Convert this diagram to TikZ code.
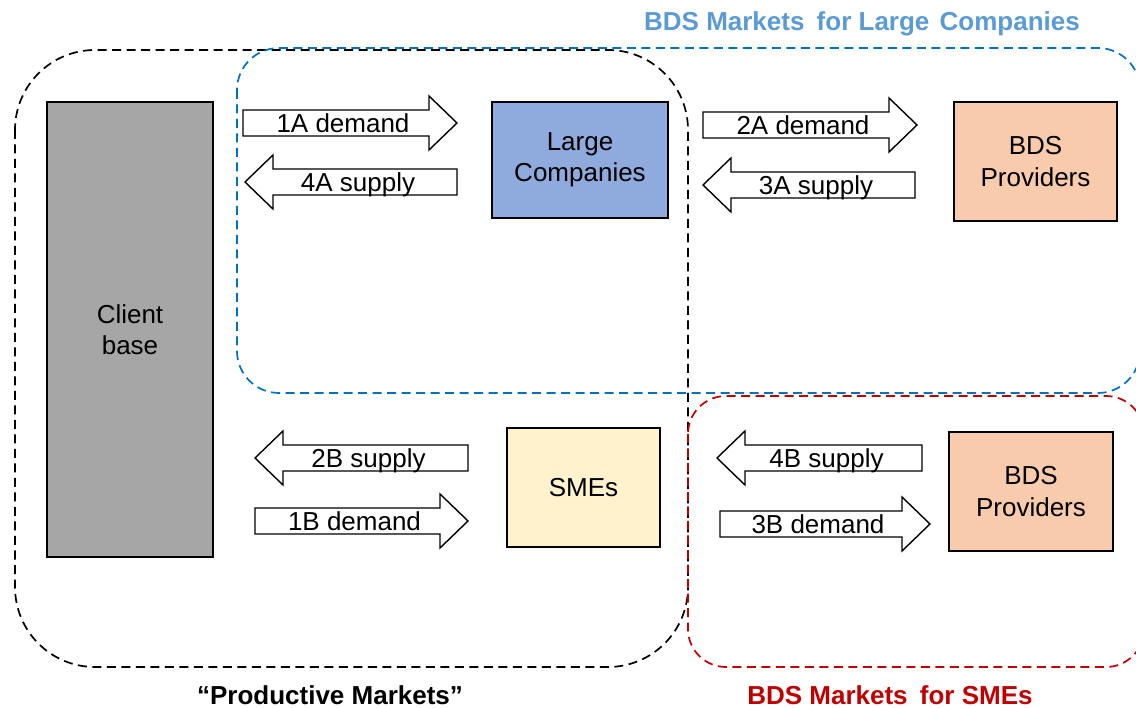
\documentclass[tikz,border=0pt]{standalone}
\usepackage{fontspec}
\setmainfont{Liberation Sans}
\definecolor{titleblue}{HTML}{5B9BD5}
\definecolor{lineblue}{HTML}{0070C0}
\definecolor{darkred}{HTML}{C00000}
\definecolor{clientgray}{HTML}{A6A6A6}
\definecolor{largeblue}{HTML}{8FAADC}
\definecolor{bdspeach}{HTML}{F8CBAD}
\definecolor{smecream}{HTML}{FFF2CC}

% right-pointing block arrow: name, left x, tip x, centre y, label
\newcommand\blockright[5]{%
  \draw[blockarrow] (#2,#4-13) -- (#3-28,#4-13) -- (#3-28,#4-27) -- (#3,#4)
    -- (#3-28,#4+27) -- (#3-28,#4+13) -- (#2,#4+13) -- cycle;
  \node[arrowlabel] (#1) at ({(#2+#3-14)/2},#4+9.5) {#5};
}
% left-pointing block arrow: name, tip x, right x, centre y, label
\newcommand\blockleft[5]{%
  \draw[blockarrow] (#3,#4-13) -- (#2+28,#4-13) -- (#2+28,#4-27) -- (#2,#4)
    -- (#2+28,#4+27) -- (#2+28,#4+13) -- (#3,#4+13) -- cycle;
  \node[arrowlabel] (#1) at ({(#2+#3+14)/2},#4+9.5) {#5};
}

\begin{document}
\begin{tikzpicture}[x=1pt,y=-1pt,
  every node/.style={font=\fontsize{26}{31.5}\selectfont},
  region/.style={line width=1.7pt, dash pattern=on 9pt off 5.5pt},
  actor/.style={draw=black, line width=1.4pt, align=center, inner sep=0pt},
  blockarrow/.style={draw=black, fill=white, line width=1.4pt, line join=miter},
  arrowlabel/.style={anchor=base, inner sep=0pt},
  regiontitle/.style={font=\fontsize{26}{30}\selectfont\bfseries, inner sep=0pt, anchor=base}]
\useasboundingbox (0,0) rectangle (1136,708);

% market regions
\draw[region, black, rounded corners=80pt] (15,50) rectangle (688,667);
\draw[region, lineblue, rounded corners=42pt] (237,48) rectangle (1140,393);
\draw[region, darkred, rounded corners=38pt] (688,396) rectangle (1144,667);

% region titles
\node[regiontitle, text=titleblue] (tlarge) at (862,31) {BDS Markets\hspace{5pt} for Large\hspace{3pt} Companies};
\node[regiontitle, text=black] (tprod) at (330,704) {“Productive Markets”};
\node[regiontitle, text=darkred] (tsme) at (890,704) {BDS Markets\hspace{5pt} for SMEs};

% actors
\node[actor, fill=clientgray, minimum width=166pt, minimum height=455pt] (client) at (130,329.5) {Client\\base};
\node[actor, fill=largeblue, minimum width=176pt, minimum height=116pt] (large) at (580,160) {Large\\Companies};
\node[actor, fill=bdspeach, minimum width=163pt, minimum height=119pt] (bdsA) at (1035.5,161.5) {BDS\\Providers};
\node[actor, fill=smecream, minimum width=153pt, minimum height=119pt] (sme) at (583.5,487.5) {SMEs};
\node[actor, fill=bdspeach, minimum width=164pt, minimum height=119pt] (bdsB) at (1031,491.5) {BDS\\Providers};

% demand and supply flows
\blockright{d1A}{243}{457}{123}{1A demand}
\blockleft{s4A}{245}{457}{182}{4A supply}
\blockright{d2A}{703}{917}{125}{2A demand}
\blockleft{s3A}{703}{915}{185}{3A supply}
\blockleft{s2B}{255}{468}{458}{2B supply}
\blockright{d1B}{255}{468}{521}{1B demand}
\blockleft{s4B}{717}{922}{458}{4B supply}
\blockright{d3B}{720}{930}{524}{3B demand}
\end{tikzpicture}
\end{document}
